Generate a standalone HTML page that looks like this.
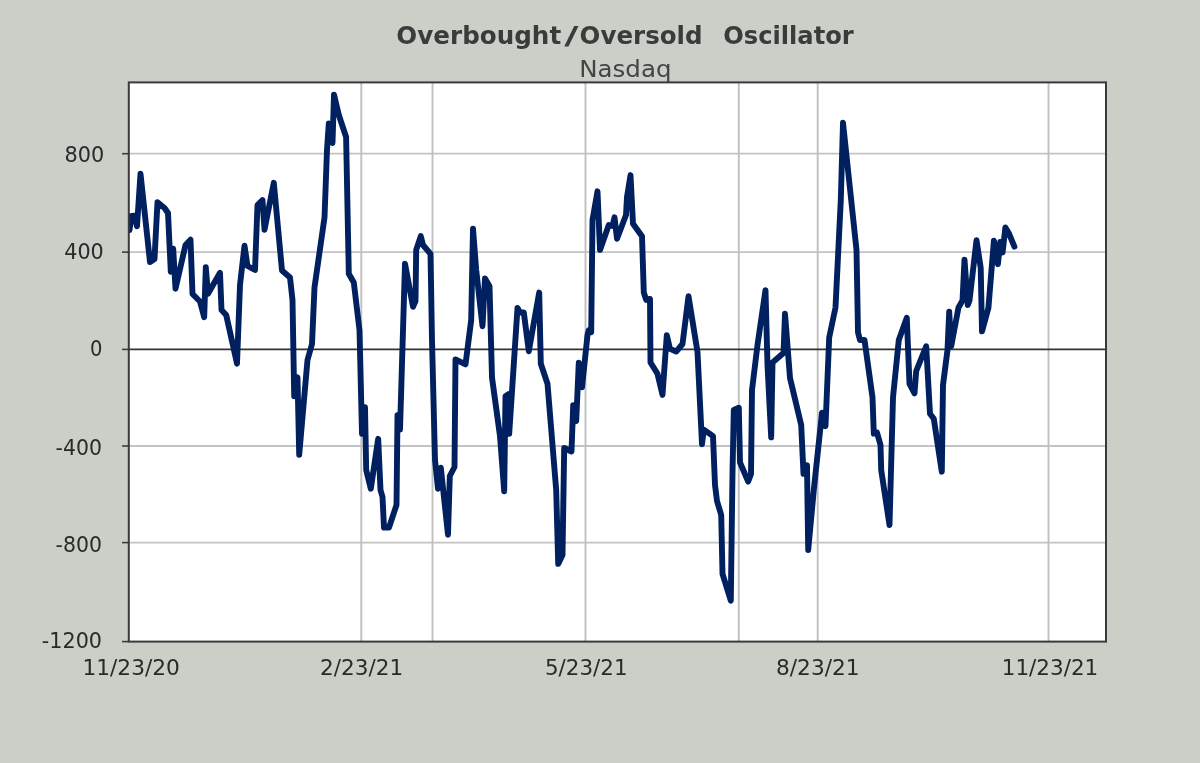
<!DOCTYPE html>
<html lang="en">
<head>
<meta charset="utf-8">
<title>Overbought/Oversold Oscillator - Nasdaq</title>
<style>
html,body{margin:0;padding:0;background:#cacfc7;}
body{width:1200px;height:763px;overflow:hidden;}
svg{display:block;}
text{font-family:"DejaVu Sans","Liberation Sans",sans-serif;}
.title{font-weight:bold;font-size:24.6px;fill:#3b3b3b;}
.sub{font-size:22.4px;fill:#444;}
.lab{font-size:20.6px;fill:#2a2a2a;}
.xlab{font-size:20.6px;fill:#2a2a2a;}
</style>
</head>
<body>
<svg width="1200" height="763" viewBox="0 0 1200 763">
<rect x="0" y="0" width="1200" height="763" fill="#cacfc7"/>
<g id="chart">
<rect x="128.8" y="82.4" width="977.2" height="559.2" fill="#ffffff"/>
<g stroke="#c0c0c0" stroke-width="1.9" fill="none">
<line x1="128.8" y1="153.70" x2="1106.0" y2="153.70" stroke="#c3c3c3" stroke-width="1.8"/>
<line x1="128.8" y1="252.10" x2="1106.0" y2="252.10" stroke="#c3c3c3" stroke-width="1.8"/>
<line x1="128.8" y1="446.00" x2="1106.0" y2="446.00" stroke="#c3c3c3" stroke-width="1.8"/>
<line x1="128.8" y1="542.60" x2="1106.0" y2="542.60" stroke="#c3c3c3" stroke-width="1.8"/>
<line x1="361.30" y1="82.4" x2="361.30" y2="641.6"/>
<line x1="432.50" y1="82.4" x2="432.50" y2="641.6"/>
<line x1="585.50" y1="82.4" x2="585.50" y2="641.6"/>
<line x1="738.80" y1="82.4" x2="738.80" y2="641.6"/>
<line x1="817.70" y1="82.4" x2="817.70" y2="641.6"/>
<line x1="1048.50" y1="82.4" x2="1048.50" y2="641.6"/>
</g>
<line x1="128.8" y1="349.40" x2="1106.0" y2="349.40" stroke="#333" stroke-width="1.6"/>
<clipPath id="plotclip"><rect x="128.8" y="82.4" width="977.2" height="559.2"/></clipPath>
<polyline clip-path="url(#plotclip)" fill="none" stroke="#002060" stroke-width="5.9" stroke-linejoin="round" stroke-linecap="round" points="129.5,230.0 131.5,216.0 134.5,215.6 137.0,226.2 140.5,173.8 150.0,262.1 154.5,259.0 157.5,202.2 164.5,208.0 168.0,213.0 170.8,271.7 173.2,248.8 175.5,288.7 185.5,245.0 190.5,239.7 192.5,294.0 200.0,301.5 204.2,317.2 205.8,267.3 208.0,293.7 220.0,272.8 221.5,310.0 226.2,315.0 237.0,363.7 240.0,285.0 244.5,245.8 247.5,266.0 255.0,270.0 257.5,205.0 262.5,200.1 264.5,229.7 273.8,182.8 282.0,270.5 290.0,277.5 292.5,300.0 294.2,396.2 297.5,377.3 299.2,454.7 307.5,360.0 312.0,344.0 314.5,287.5 324.5,217.5 327.0,150.0 328.8,123.5 332.5,143.0 334.0,94.7 338.8,115.0 346.1,137.0 348.8,273.8 353.8,282.5 359.5,330.0 362.0,433.7 365.0,407.3 366.2,470.0 370.8,488.7 378.2,438.8 380.5,490.0 382.5,497.0 384.0,527.5 389.0,527.5 396.5,505.0 397.5,415.3 400.0,429.7 405.0,263.8 413.0,306.8 415.5,301.0 416.2,250.0 420.8,236.1 423.0,245.0 430.5,253.8 432.0,340.0 435.0,460.0 438.0,488.7 440.8,467.6 448.0,534.7 449.8,476.0 454.5,467.0 455.5,359.4 465.5,364.3 471.2,320.0 473.0,228.8 476.2,270.0 482.5,326.2 485.0,278.4 489.5,286.2 492.0,377.5 500.0,436.0 504.2,491.2 505.5,396.2 508.8,394.0 509.2,433.7 517.5,308.0 520.0,312.5 523.8,312.5 528.8,351.2 539.2,292.6 540.8,363.8 547.5,383.8 556.2,490.0 558.2,563.9 562.5,555.0 564.2,448.0 571.5,451.5 573.2,405.1 576.2,421.2 578.8,362.6 582.0,387.4 587.5,335.0 588.8,330.3 591.2,332.2 592.5,220.0 597.5,191.3 600.0,249.9 608.8,225.1 612.5,225.9 614.5,217.3 617.0,238.7 626.0,215.0 627.0,197.0 630.5,175.1 633.0,223.8 642.0,236.2 643.8,292.5 646.2,299.9 650.0,298.9 650.5,362.5 657.5,373.8 662.5,394.9 666.8,335.1 670.0,348.8 676.2,351.6 682.5,344.0 688.5,296.3 697.5,352.0 702.0,444.2 703.8,429.6 713.0,436.2 715.0,485.0 717.0,501.0 721.2,515.0 722.5,573.8 730.8,600.7 732.5,472.5 733.8,410.0 738.8,407.8 740.0,462.5 748.2,481.6 751.0,474.0 752.0,390.0 757.5,345.0 765.5,290.1 767.5,365.0 771.2,437.4 772.5,362.5 783.5,353.0 785.0,313.8 790.0,378.0 801.2,425.0 803.5,473.8 807.0,465.2 808.2,550.0 813.8,490.0 822.0,412.6 825.5,426.2 829.2,337.5 835.5,307.5 840.8,200.0 843.0,122.8 856.5,250.0 858.0,332.5 860.0,340.0 864.5,340.0 872.5,397.5 873.8,433.6 877.0,432.6 880.5,445.0 881.2,470.0 889.5,525.0 893.0,397.5 898.8,340.0 906.8,317.8 909.5,383.8 914.5,393.3 916.2,371.0 926.2,346.3 930.0,413.8 933.8,418.8 941.8,471.7 943.0,385.0 947.5,350.0 949.2,311.8 951.2,346.2 958.5,307.5 962.5,300.5 964.5,259.8 967.8,305.0 969.5,300.5 976.5,240.3 980.7,267.8 982.0,331.4 988.4,308.0 993.9,240.8 997.9,264.2 1000.2,242.0 1002.6,252.4 1005.4,227.4 1009.0,233.6 1014.4,246.6"/>
<rect x="128.8" y="82.4" width="977.2" height="559.2" fill="none" stroke="#3a3a3a" stroke-width="2"/>
<g stroke="#3c3c3c" stroke-width="1.6">
<line x1="122" y1="153.70" x2="128.8" y2="153.70"/>
<line x1="122" y1="252.10" x2="128.8" y2="252.10"/>
<line x1="122" y1="349.40" x2="128.8" y2="349.40"/>
<line x1="122" y1="446.00" x2="128.8" y2="446.00"/>
<line x1="122" y1="542.60" x2="128.8" y2="542.60"/>
<line x1="122" y1="641.60" x2="128.8" y2="641.60"/>
</g>
<defs><filter id="gray" x="0" y="0" width="1200" height="763" filterUnits="userSpaceOnUse" color-interpolation-filters="sRGB"><feOffset dx="0" dy="0"/></filter></defs>
<g id="labels" filter="url(#gray)">
<text class="sub" x="579.30" y="76.6" textLength="92.18" lengthAdjust="spacingAndGlyphs" xml:space="preserve">Nasdaq</text>
<text class="lab" x="64.40" y="162.2" textLength="39.77" lengthAdjust="spacingAndGlyphs" xml:space="preserve">800</text>
<text class="lab" x="64.20" y="259.4" textLength="39.57" lengthAdjust="spacingAndGlyphs" xml:space="preserve">400</text>
<text class="lab" x="89.90" y="356.0" textLength="12.42" lengthAdjust="spacingAndGlyphs" xml:space="preserve">0</text>
<text class="lab" x="55.60" y="454.8" textLength="46.39" lengthAdjust="spacingAndGlyphs" xml:space="preserve">-400</text>
<text class="lab" x="55.60" y="551.6" textLength="46.39" lengthAdjust="spacingAndGlyphs" xml:space="preserve">-800</text>
<text class="lab" x="41.80" y="648.4" textLength="60.22" lengthAdjust="spacingAndGlyphs" xml:space="preserve">-1200</text>
<text class="xlab" x="82.40" y="675.2" textLength="97.53" lengthAdjust="spacingAndGlyphs" xml:space="preserve">11/23/20</text>
<text class="xlab" x="320.00" y="675.2" textLength="83.20" lengthAdjust="spacingAndGlyphs" xml:space="preserve">2/23/21</text>
<text class="xlab" x="544.90" y="675.2" textLength="82.70" lengthAdjust="spacingAndGlyphs" xml:space="preserve">5/23/21</text>
<text class="xlab" x="776.00" y="675.2" textLength="83.60" lengthAdjust="spacingAndGlyphs" xml:space="preserve">8/23/21</text>
<text class="xlab" x="1001.80" y="675.2" textLength="96.43" lengthAdjust="spacingAndGlyphs" xml:space="preserve">11/23/21</text>
<text class="title" y="44.1" xml:space="preserve"><tspan x="396.30" textLength="164.88" lengthAdjust="spacingAndGlyphs">Overbought</tspan><tspan x="564.20" textLength="14.21" lengthAdjust="spacingAndGlyphs">/</tspan><tspan x="579.60" textLength="122.98" lengthAdjust="spacingAndGlyphs">Oversold</tspan>  <tspan x="723.20" textLength="130.59" lengthAdjust="spacingAndGlyphs">Oscillator</tspan></text>
</g>
</g>
</svg>
</body>
</html>
